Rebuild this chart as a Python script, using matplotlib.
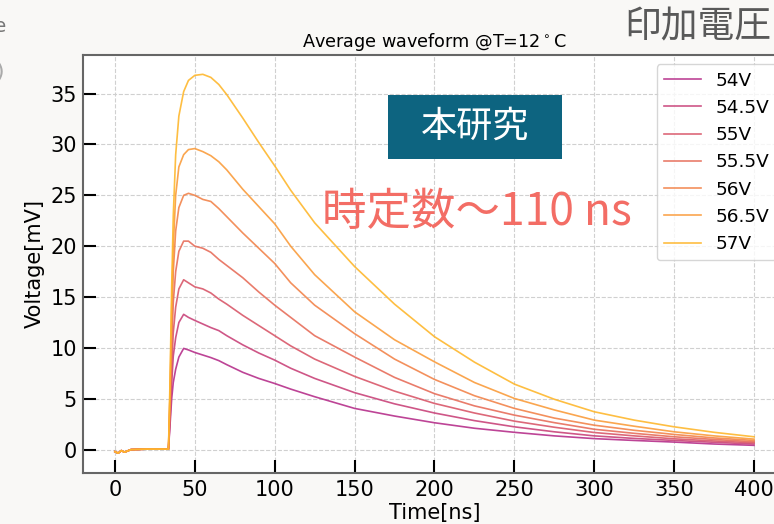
import numpy as np
import matplotlib
matplotlib.use("Agg")
import matplotlib.pyplot as plt
from matplotlib.patches import Rectangle

# ---- data ----
time_ns = [0, 2, 4, 6, 10, 20, 33.5, 34.5, 35.5, 36.5, 38, 40, 43, 46, 50, 55, 60, 65, 70,
           80, 90, 100, 110, 125, 150, 175, 200, 225, 250, 275, 300, 325, 350, 375, 400]

baseline = [-0.2, -0.35, -0.1, -0.25, 0.0, 0.05, 0.05]

v54 = baseline + [2.5, 5.0, 6.6, 7.9, 9.1, 9.95, 9.8, 9.55, 9.3, 9.05, 8.75, 8.35,
                  7.6, 7.0, 6.5, 5.95, 5.2, 4.05, 3.3, 2.64, 2.1, 1.7, 1.35, 1.08, 0.9, 0.74, 0.55, 0.42]
v54_5 = baseline + [3.0, 6.5, 9.2, 11.0, 12.5, 13.3, 13.0, 12.7, 12.35, 12.0, 11.7, 11.2,
                    10.3, 9.5, 8.8, 8.0, 7.0, 5.6, 4.5, 3.6, 2.85, 2.24, 1.75, 1.35, 1.1, 0.9, 0.72, 0.55]
v55 = baseline + [3.5, 8.0, 11.5, 14.0, 15.8, 16.7, 16.4, 16.0, 15.8, 15.4, 14.8, 14.3,
                  13.2, 12.2, 11.2, 10.2, 8.9, 7.2, 5.75, 4.54, 3.6, 2.8, 2.2, 1.68, 1.35, 1.06, 0.85, 0.67]
v55_5 = baseline + [4.5, 10.0, 14.5, 17.5, 19.5, 20.5, 20.5, 20.0, 19.8, 19.4, 18.7, 18.1,
                    16.9, 15.5, 14.2, 13.0, 11.2, 9.1, 7.1, 5.5, 4.3, 3.39, 2.65, 2.0, 1.6, 1.26, 1.0, 0.77]
v56 = baseline + [5.5, 12.0, 17.5, 21.5, 23.8, 25.0, 25.2, 25.0, 24.6, 24.4, 23.7, 22.9,
                  21.3, 19.8, 18.3, 16.4, 14.2, 11.4, 8.9, 6.9, 5.3, 4.05, 3.1, 2.4, 1.9, 1.49, 1.15, 0.9]
v56_5 = baseline + [6.0, 14.0, 20.0, 25.0, 27.8, 29.0, 29.5, 29.6, 29.3, 28.9, 28.3, 27.5,
                    25.6, 23.9, 22.2, 20.0, 17.2, 13.55, 10.8, 8.63, 6.6, 5.03, 3.9, 2.9, 2.3, 1.75, 1.35, 1.03]
v57 = baseline + [7.0, 16.0, 23.0, 29.0, 32.8, 35.2, 36.3, 36.8, 36.9, 36.6, 35.9, 34.9,
                  32.6, 30.2, 27.9, 25.5, 22.3, 18.0, 14.3, 11.1, 8.6, 6.44, 4.95, 3.72, 2.9, 2.24, 1.7, 1.26]

series = [v54, v54_5, v55, v55_5, v56, v56_5, v57]
labels = ["54V", "54.5V", "55V", "55.5V", "56V", "56.5V", "57V"]

x_ticks = [0, 50, 100, 150, 200, 250, 300, 350, 400]
y_ticks = [0, 5, 10, 15, 20, 25, 30, 35]

W, H = 774, 524
fig = plt.figure(figsize=(W / 100, H / 100), dpi=100, facecolor="#f9f8f6")

def fx(px):
    return px / W

def fy(py):
    return 1 - py / H

ax = fig.add_axes([fx(83), fy(473), fx(786) - fx(83), fy(55) - fy(473)])
ax.set_facecolor("white")

cmap = plt.get_cmap("plasma")
colors = [cmap(c) for c in np.linspace(0.42, 0.84, len(series))]
for vals, lab, col in zip(series, labels, colors):
    ax.plot(time_ns, vals, color=col, lw=1.2, alpha=0.9, label=lab)

ax.set_xlim(-20, 420)
ax.set_ylim(-2.3, 38.8)
ax.set_xticks(x_ticks)
ax.set_yticks(y_ticks)
ax.tick_params(direction="in", length=9.5, width=1.5, labelsize=15, color="black")
ax.tick_params(axis="x", pad=5)
ax.tick_params(axis="y", pad=4.5)
ax.grid(True, linestyle="--", color="#d0d0d0", linewidth=0.8)
for s in ax.spines.values():
    s.set_color("#666666")
    s.set_linewidth(1.5)

ax.set_xlabel("Time[ns]", fontsize=15, labelpad=2)
ax.set_ylabel("Voltage[mV]", fontsize=15, labelpad=4)
ax.set_title(r"Average waveform @T=12$^\circ$C", fontsize=12.7, pad=6)

leg = ax.legend(loc="upper right", fontsize=13.3, frameon=True)
leg.get_frame().set_edgecolor("#cccccc")

cjk = ["Noto Sans CJK JP", "DejaVu Sans"]
# slide annotations
fig.patches.append(Rectangle((fx(388), fy(159)), fx(562) - fx(388), fy(95) - fy(159),
                             transform=fig.transFigure, facecolor="#0d6480",
                             edgecolor="none", zorder=5))
fig.text(fx(475), fy(127), "本研究", color="white", fontsize=26, family=cjk,
         ha="center", va="center", zorder=6)
fig.text(fx(477), fy(212), "時定数～110 ns", color="#f36d65", fontsize=32, family=cjk,
         ha="center", va="center", zorder=6)
fig.text(fx(771), fy(27), "印加電圧", color="#595959", fontsize=26.5, family=cjk,
         ha="right", va="center")
fig.text(fx(7), fy(26), "ue", color="#777777", fontsize=14, ha="right", va="center")
fig.text(fx(4), fy(72), ")", color="#aaaaaa", fontsize=16, ha="right", va="center")

fig.savefig("out.png", dpi=100, facecolor=fig.get_facecolor())
